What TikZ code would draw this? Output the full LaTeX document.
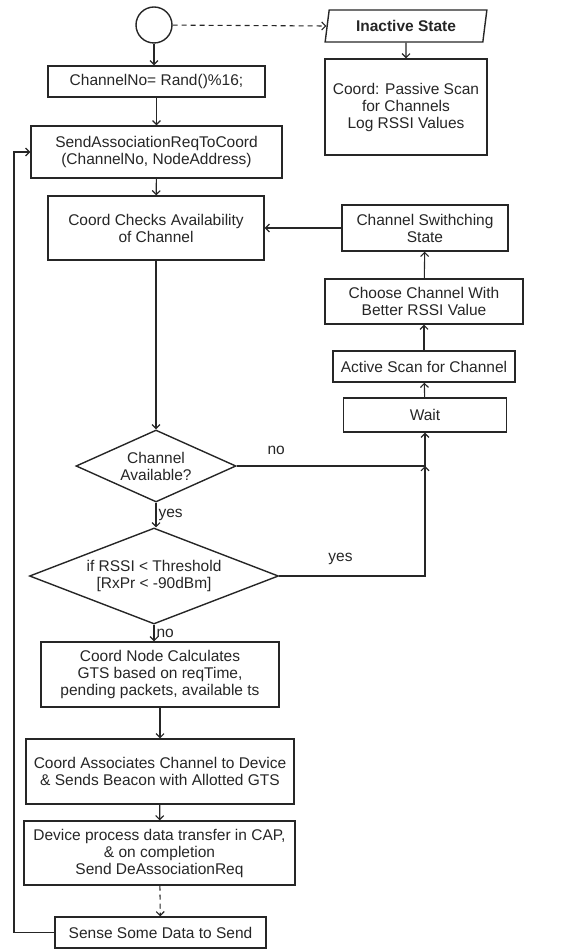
\documentclass[tikz,border=0pt]{standalone}
\usepackage{fontspec}
\setmainfont{Liberation Sans}
\usepackage{tikz}
\usetikzlibrary{arrows.meta,calc,shapes.geometric}

\begin{document}
\begin{tikzpicture}[x=1pt, y=-1pt,
		font=\fontsize{15.5}{17}\selectfont, text=black!85,
		box/.style = {draw=black!85, line width=1.4pt, align=center, inner sep=0pt},
		dia/.style = {box, diamond},
		flow/.style = {draw=black!85, line width=1.1pt, -{Straight Barb[length=4pt, width=8pt]}},
		lbl/.style = {inner sep=2pt}]
	\useasboundingbox (0,0) rectangle (580,949);
		% main column
		\node[draw=black!85, line width=1.4pt, circle, minimum size=36pt] (start) at (154,25) {};
		\node[box, minimum width=217pt, minimum height=31pt] (rand) at (156.5,81.5) {ChannelNo= Rand()\%16;};
		\node[box, minimum width=251pt, minimum height=52pt] (sendreq) at (156.5,152) {SendAssociationReqToCoord\\(ChannelNo, NodeAddress)};
		\node[box, minimum width=216pt, minimum height=64pt] (check) at (156,228) {Coord Checks Availability\\of Channel};
		\node[dia, aspect=2.2, minimum width=160pt, minimum height=72pt] (avail) at (156,466) {Channel\\Available?};
		\node[dia, aspect=2.6, minimum width=249pt, minimum height=96pt] (rssi) at (154,576) {if RSSI < Threshold\\{}[RxPr < -90dBm]};
		\node[box, minimum width=238pt, minimum height=65pt] (calc) at (160,674.5) {Coord Node Calculates\\GTS based on reqTime,\\pending packets, available ts};
		\node[box, minimum width=268pt, minimum height=65pt] (assoc) at (160,771.5) {Coord Associates Channel to Device\\\& Sends Beacon with Allotted GTS};
		\node[box, minimum width=271pt, minimum height=64pt] (device) at (159.5,853) {Device process data transfer in CAP,\\\& on completion\\Send DeAssociationReq};
		\node[box, minimum width=211pt, minimum height=31pt] (sense) at (160.5,932.5) {Sense Some Data to Send};
		% coordinator side
		\node[box, trapezium, trapezium left angle=77, trapezium right angle=103, trapezium stretches=true,
			minimum width=162pt, minimum height=32pt] (inact) at (406,26) {\textbf{Inactive State}};
		\node[box, minimum width=162pt, minimum height=96pt] (passive) at (406,107) {Coord: Passive Scan\\for Channels\\Log RSSI Values};
		\node[box, minimum width=166pt, minimum height=46pt] (switch) at (425,228) {Channel Swithching\\State};
		\node[box, minimum width=198pt, minimum height=45pt] (choose) at (424,301.5) {Choose Channel With\\Better RSSI Value};
		\node[box, minimum width=182pt, minimum height=31pt] (scan) at (424,366.5) {Active Scan for Channel};
		\node[box, minimum width=163pt, minimum height=34pt] (wait) at (425,415) {Wait};
		\coordinate (join) at (wait.south |- avail.east);
		\coordinate (back) at (14,0);
		% connectors
		\path (start) edge[flow] (start |- rand.north)
			(start) edge[flow, dashed, dash pattern=on 5pt off 4pt] (inact.west)
			(inact) edge[flow] (passive)
			(rand) edge[flow] (sendreq)
			(sendreq) edge[flow] (check)
			(check) edge[flow] (avail)
			(avail) edge[flow] node[right, lbl]{yes} (avail |- rssi.north)
			(rssi.south) edge[flow] node[right, lbl]{no} (rssi.south |- calc.north)
			(calc) edge[flow] (assoc)
			(assoc) edge[flow] (device)
			(device) edge[flow, dashed, dash pattern=on 5pt off 4pt] (sense)
			(switch) edge[flow] (check)
			(choose) edge[flow] (switch)
			(scan) edge[flow] (choose)
			(wait) edge[flow] (scan);
		\draw[flow] (avail.east) -- node[above=7pt, pos=0.21]{no} (join) -- (wait.south);
		\draw[flow] (rssi.east) -| node[above=7pt, pos=0.21]{yes} (join);
		\draw[flow] (sense.west) -- (sense.west -| back) -- (back |- sendreq.west) -- (sendreq.west);
	\end{tikzpicture}
\end{document}
